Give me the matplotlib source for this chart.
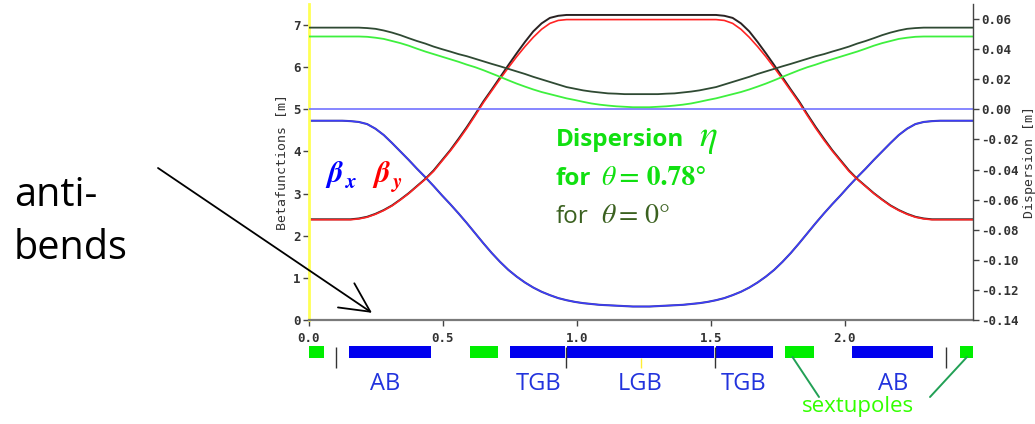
import matplotlib
matplotlib.use('Agg')
import matplotlib.pyplot as plt

# longitudinal position along the section [m]
s = [0.000, 0.031, 0.062, 0.093, 0.124, 0.155, 0.186, 0.217, 0.248, 0.279,
     0.310, 0.341, 0.372, 0.403, 0.434, 0.465, 0.496, 0.527, 0.558, 0.589,
     0.620, 0.651, 0.682, 0.713, 0.744, 0.775, 0.806, 0.837, 0.868, 0.899,
     0.930, 0.961, 0.992, 1.023, 1.054, 1.085, 1.116, 1.147, 1.178, 1.209,
     1.240, 1.271, 1.302, 1.333, 1.364, 1.395, 1.426, 1.457, 1.488, 1.519,
     1.550, 1.581, 1.612, 1.643, 1.674, 1.705, 1.736, 1.767, 1.798, 1.829,
     1.860, 1.891, 1.922, 1.953, 1.984, 2.015, 2.046, 2.077, 2.108, 2.139,
     2.170, 2.201, 2.232, 2.263, 2.294, 2.325, 2.356, 2.387, 2.418, 2.449,
     2.480]

beta_x = [4.73, 4.73, 4.73, 4.73, 4.73, 4.72, 4.70, 4.65, 4.54, 4.39,
          4.20, 4.00, 3.80, 3.59, 3.39, 3.18, 2.96, 2.75, 2.53, 2.30,
          2.06, 1.82, 1.59, 1.38, 1.19, 1.03, 0.89, 0.77, 0.67, 0.59,
          0.52, 0.47, 0.43, 0.40, 0.38, 0.36, 0.35, 0.34, 0.33, 0.32,
          0.32, 0.32, 0.33, 0.34, 0.35, 0.36, 0.38, 0.40, 0.43, 0.47,
          0.52, 0.59, 0.67, 0.77, 0.89, 1.03, 1.19, 1.38, 1.59, 1.82,
          2.06, 2.30, 2.53, 2.75, 2.96, 3.18, 3.39, 3.59, 3.80, 4.00,
          4.20, 4.39, 4.54, 4.65, 4.70, 4.72, 4.73, 4.73, 4.73, 4.73,
          4.73]

# beta_y with the bends at 0.78 deg
beta_y = [2.38, 2.38, 2.38, 2.38, 2.38, 2.38, 2.40, 2.44, 2.51, 2.60,
          2.71, 2.85, 3.00, 3.17, 3.34, 3.53, 3.77, 4.01, 4.27, 4.55,
          4.85, 5.16, 5.44, 5.72, 5.99, 6.25, 6.49, 6.71, 6.90, 7.04,
          7.11, 7.13, 7.13, 7.13, 7.13, 7.13, 7.13, 7.13, 7.13, 7.13,
          7.13, 7.13, 7.13, 7.13, 7.13, 7.13, 7.13, 7.13, 7.13, 7.13,
          7.11, 7.04, 6.90, 6.71, 6.49, 6.25, 5.99, 5.72, 5.44, 5.16,
          4.85, 4.55, 4.27, 4.01, 3.77, 3.53, 3.34, 3.17, 3.00, 2.85,
          2.71, 2.60, 2.51, 2.44, 2.40, 2.38, 2.38, 2.38, 2.38, 2.38,
          2.38]

# beta_y with the bends switched off
beta_y_0 = [2.39, 2.39, 2.39, 2.39, 2.39, 2.39, 2.41, 2.45, 2.52, 2.61,
            2.72, 2.86, 3.01, 3.18, 3.35, 3.55, 3.79, 4.03, 4.30, 4.58,
            4.88, 5.19, 5.47, 5.76, 6.05, 6.33, 6.60, 6.85, 7.04, 7.17,
            7.22, 7.24, 7.24, 7.24, 7.24, 7.24, 7.24, 7.24, 7.24, 7.24,
            7.24, 7.24, 7.24, 7.24, 7.24, 7.24, 7.24, 7.24, 7.24, 7.24,
            7.22, 7.17, 7.04, 6.85, 6.60, 6.33, 6.05, 5.76, 5.47, 5.19,
            4.88, 4.58, 4.30, 4.03, 3.79, 3.55, 3.35, 3.18, 3.01, 2.86,
            2.72, 2.61, 2.52, 2.45, 2.41, 2.39, 2.39, 2.39, 2.39, 2.39,
            2.39]

# dispersion [m], theta = 0.78 deg
eta = [0.0484, 0.0484, 0.0484, 0.0484, 0.0484, 0.0484, 0.0484, 0.0482, 0.0476, 0.0468,
       0.0454, 0.0440, 0.0423, 0.0403, 0.0384, 0.0367, 0.0350, 0.0333, 0.0316, 0.0297,
       0.0280, 0.0260, 0.0238, 0.0216, 0.0193, 0.0171, 0.0151, 0.0132, 0.0115, 0.0101,
       0.0087, 0.0073, 0.0062, 0.0050, 0.0039, 0.0031, 0.0025, 0.0020, 0.0017, 0.0014,
       0.0014, 0.0014, 0.0017, 0.0020, 0.0025, 0.0031, 0.0039, 0.0050, 0.0062, 0.0073,
       0.0087, 0.0101, 0.0115, 0.0132, 0.0151, 0.0171, 0.0193, 0.0216, 0.0238, 0.0260,
       0.0280, 0.0297, 0.0316, 0.0333, 0.0350, 0.0367, 0.0384, 0.0403, 0.0423, 0.0440,
       0.0454, 0.0468, 0.0476, 0.0482, 0.0484, 0.0484, 0.0484, 0.0484, 0.0484, 0.0484,
       0.0484]

# dispersion [m], theta = 0 deg
eta_0 = [0.0543, 0.0543, 0.0543, 0.0543, 0.0543, 0.0543, 0.0543, 0.0540, 0.0535, 0.0524,
         0.0510, 0.0493, 0.0473, 0.0454, 0.0437, 0.0417, 0.0400, 0.0384, 0.0367, 0.0353,
         0.0336, 0.0319, 0.0302, 0.0286, 0.0269, 0.0252, 0.0235, 0.0216, 0.0199, 0.0182,
         0.0165, 0.0148, 0.0137, 0.0126, 0.0118, 0.0112, 0.0106, 0.0104, 0.0101, 0.0101,
         0.0101, 0.0101, 0.0101, 0.0104, 0.0106, 0.0112, 0.0118, 0.0126, 0.0137, 0.0148,
         0.0165, 0.0182, 0.0199, 0.0216, 0.0235, 0.0252, 0.0269, 0.0286, 0.0302, 0.0319,
         0.0336, 0.0353, 0.0367, 0.0384, 0.0400, 0.0417, 0.0437, 0.0454, 0.0473, 0.0493,
         0.0510, 0.0524, 0.0535, 0.0540, 0.0543, 0.0543, 0.0543, 0.0543, 0.0543, 0.0543,
         0.0543]

# reference dispersion line
eta_ref_s = [0.0, 2.48]
eta_ref = [0.0, 0.0]

# lattice elements
elem_kind = ['sext', 'ab', 'sext', 'tgb', 'lgb', 'tgb', 'sext', 'ab', 'sext']
elem_start = [0.000, 0.149, 0.599, 0.749, 0.963, 1.519, 1.778, 2.028, 2.431]
elem_end = [0.055, 0.454, 0.704, 0.957, 1.511, 1.730, 1.883, 2.328, 2.480]
marker_s = [0.100, 0.960, 1.515, 2.379]
centre_s = 1.240
elem_labels = ['AB', 'TGB', 'LGB', 'TGB', 'AB']
elem_label_s = [0.285, 0.855, 1.235, 1.620, 2.180]

x_ticks = [0.0, 0.5, 1.0, 1.5, 2.0]
beta_ticks = [0, 1, 2, 3, 4, 5, 6, 7]
eta_ticks = [-0.14, -0.12, -0.10, -0.08, -0.06, -0.04, -0.02, 0.00, 0.02, 0.04, 0.06]

W, H = 1035, 424


def fpos(x, y):
    """pixel position (from top left) -> figure fraction"""
    return x / W, 1 - y / H


plt.rcParams['axes.unicode_minus'] = False
fig = plt.figure(figsize=(W / 100, H / 100), dpi=100)

ax = fig.add_axes([309 / W, (H - 320) / H, 664 / W, 316 / H])
ax.set_xlim(0, 2.478)
ax.set_ylim(0, 7.5)

ax2 = ax.twinx()
ax2.set_ylim(-0.14, 0.07)

# dispersion curves
ax2.plot(eta_ref_s, eta_ref, color='#7272ff', lw=1.2)
ax2.plot(s, eta, color='#3ef03e', lw=1.3)
ax2.plot(s, eta_0, color='#2f4a33', lw=1.3)

# beta functions: the theta = 0 curve sits underneath as a dark fringe
ax.plot(s, beta_x, color='#14146a', lw=1.5, alpha=0.8)
ax.plot(s, beta_x, color='#3c3cff', lw=1.0)
ax.plot(s, beta_y_0, color='#2a2222', lw=1.4)
ax.plot(s, beta_y, color='#ff2424', lw=1.2)

# spines
for a in (ax, ax2):
    a.spines['top'].set_visible(False)
ax.spines['right'].set_visible(False)
ax2.spines['left'].set_visible(False)
ax2.spines['bottom'].set_visible(False)
ax.spines['left'].set_color('#ffff55')
ax.spines['left'].set_linewidth(2)
ax.spines['bottom'].set_color('#7a7a7a')
ax.spines['bottom'].set_linewidth(1.6)
ax2.spines['right'].set_color('#444444')
ax2.spines['right'].set_linewidth(1)

ax.set_xticks(x_ticks)
ax.set_xticklabels(['%.1f' % v for v in x_ticks])
ax.set_yticks(beta_ticks)
ax.set_yticklabels([str(v) for v in beta_ticks])
ax2.set_yticks(eta_ticks)
ax2.set_yticklabels(['%.2f' % v for v in eta_ticks])

ax.tick_params(axis='both', direction='out', length=4, width=1, color='#444444',
               labelcolor='#333333', labelsize=9)
ax.tick_params(axis='x', pad=5)
ax.tick_params(axis='y', pad=2)
ax2.tick_params(axis='y', direction='out', length=4, width=1, color='#444444',
                labelcolor='#333333', labelsize=9, pad=2)
for lab in ax.get_xticklabels() + ax.get_yticklabels() + ax2.get_yticklabels():
    lab.set_fontfamily('DejaVu Sans Mono')
    lab.set_fontweight('bold')

ax.set_ylabel('Betafunctions [m]', fontfamily='DejaVu Sans Mono', fontsize=9.5,
              color='#333333', labelpad=4)
ax2.set_ylabel('Dispersion [m]', fontfamily='DejaVu Sans Mono', fontsize=9.5,
               color='#333333', labelpad=3)

# beta labels inside the plot
stix_bi = dict(fontfamily='STIXGeneral', style='italic', fontweight='bold', va='baseline')
fig.text(*fpos(327, 182), '\u03b2', color='#0000ff', fontsize=22, **stix_bi)
fig.text(*fpos(346, 188), 'x', color='#0000ff', fontsize=15, **stix_bi)
fig.text(*fpos(374, 182), '\u03b2', color='#ff0000', fontsize=22, **stix_bi)
fig.text(*fpos(393, 188), 'y', color='#ff0000', fontsize=15, **stix_bi)

# dispersion legend text
green = '#11e011'
dark_green = '#3b6120'
fig.text(*fpos(556, 146), 'Dispersion', color=green, fontsize=17.5,
         fontfamily='Open Sans', fontweight='bold', va='baseline')
fig.text(*fpos(699, 146), '\u03b7', color=green, fontsize=27,
         fontfamily='STIXGeneral', style='italic', va='baseline')
fig.text(*fpos(556, 185), 'for', color=green, fontsize=17.5,
         fontfamily='Open Sans', fontweight='bold', va='baseline')
fig.text(*fpos(601, 185), '\u03b8', color=green, fontsize=20,
         fontfamily='STIXGeneral', style='italic', va='baseline')
fig.text(*fpos(619, 185), '= 0.78\u00b0', color=green, fontsize=20,
         fontfamily='STIXGeneral', fontweight='bold', va='baseline')
fig.text(*fpos(556, 223), 'for', color=dark_green, fontsize=17.5,
         fontfamily='Open Sans', va='baseline')
fig.text(*fpos(601, 223), '\u03b8', color=dark_green, fontsize=20,
         fontfamily='STIXGeneral', style='italic', va='baseline')
fig.text(*fpos(619, 223), '= 0\u00b0', color=dark_green, fontsize=20,
         fontfamily='STIXGeneral', va='baseline')

# anti-bend pointer
fig.text(*fpos(14, 206), 'anti-', fontsize=28.5, fontfamily='Open Sans', va='baseline')
fig.text(*fpos(14, 259), 'bends', fontsize=28.5, fontfamily='Open Sans', va='baseline')
ax.annotate('', xy=(0.235, 0.17), xycoords='data',
            xytext=fpos(158, 168), textcoords='figure fraction',
            arrowprops=dict(arrowstyle='->,head_length=0.7,head_width=0.35',
                            color='black', lw=1.3, mutation_scale=30,
                            shrinkA=0, shrinkB=0),
            annotation_clip=False)

# lattice layout below the plot
lat = fig.add_axes([309 / W, 0, 664 / W, 84 / H])
lat.set_xlim(0, 2.478)
lat.set_ylim(424, 340)
lat.axis('off')

kind_colour = {'sext': '#00ee00', 'ab': '#0000ee', 'tgb': '#0000ee', 'lgb': '#0000ee'}
for k, a, b in zip(elem_kind, elem_start, elem_end):
    lat.broken_barh([(a, b - a)], (346, 12), facecolors=kind_colour[k])
lat.vlines(marker_s, 347, 368, color='#333333', lw=1)
lat.vlines(centre_s, 358, 368, color='#ffee33', lw=1)

for lab, x in zip(elem_labels, elem_label_s):
    lat.text(x, 390, lab, ha='center', va='baseline', fontsize=17,
             fontfamily='Open Sans', color='#2233dd')

fig.text(*fpos(858, 412), 'sextupoles', ha='center', va='baseline', fontsize=16,
         fontfamily='Open Sans', color='#33ff00')
sext = [i for i, k in enumerate(elem_kind) if k == 'sext']
for i, tx in ((sext[2], 819), (sext[3], 930)):
    tip = elem_start[i] + 0.25 * (elem_end[i] - elem_start[i]) if tx < 900 else 0.5 * (elem_start[i] + elem_end[i])
    lat.annotate('', xy=(tip, 357), xycoords='data',
                 xytext=fpos(tx, 397), textcoords='figure fraction',
                 arrowprops=dict(arrowstyle='-', color='#22a055', lw=1.4,
                                 shrinkA=0, shrinkB=0),
                 annotation_clip=False)

fig.savefig('out.png', dpi=100)
